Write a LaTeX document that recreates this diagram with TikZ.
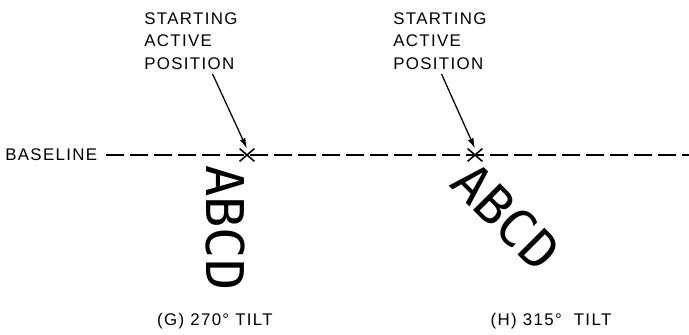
\documentclass[tikz,border=0pt]{standalone}
\usepackage{fontspec}
\usepackage{tikz}
\usetikzlibrary{arrows.meta,positioning,shapes.misc}
\newfontfamily\labelfont{Liberation Sans}[LetterSpace=8]
\newfontfamily\dotfont{DejaVu Sans Mono}
\tikzset{
  >={Latex[length=2.6mm,width=1.5mm]},
  note/.style={font=\labelfont\fontsize{12}{16.3}\selectfont,align=left,inner sep=0pt},
  xmark/.style={cross out,draw,line width=1.1pt,minimum width=3.3mm,minimum height=2.8mm,inner sep=0pt},
  glyphs/.style={font=\dotfont\fontsize{37}{37}\selectfont,inner sep=0pt,rotate=#1,anchor=north west},
  pointer/.style={->,line width=0.9pt,shorten <=1mm},
  base dash/.style={line width=1.3pt,dash pattern=on 4.5mm off 1.5mm},
  tiltcap/.style={font=\labelfont\fontsize{12}{14}\selectfont,inner sep=0pt},
}
\begin{document}
\begin{tikzpicture}
  \useasboundingbox (0,0) rectangle (17.225,8.375);
  % baseline
  \node[note,anchor=west] (base) at (0.125,4.5) {BASELINE};
  \coordinate (lineend) at (17.225,4.5);
  \draw[base dash] ([xshift=2mm]base.east) -- (lineend);
  % starting active positions
  \node[xmark] (sap1) at (6.175,4.5) {};
  \node[xmark] (sap2) at (11.875,4.5) {};
  \node[note,anchor=north west] (lab1) at (3.6,8.075) {STARTING\\ACTIVE\\POSITION};
  \node[note,anchor=north west] (lab2) at (9.825,8.075) {STARTING\\ACTIVE\\POSITION};
  \draw[pointer] ([xshift=5mm]lab1.south) -- (sap1.north);
  \draw[pointer] (lab2.south) -- (sap2.north);
  % tilted text
  \node[glyphs=-90] (tiltg) at (6.125,4.25) {ABCD};
  \node[glyphs=-45] (tilth) at (11.9,4.425) {ABCD};
  % captions
  \node[tiltcap] (capg) at (5.375,0.35) {(G) 270° TILT};
  \node[tiltcap] (caph) at (13.775,0.35) {(H) 315°\ \ TILT};
\end{tikzpicture}
\end{document}
